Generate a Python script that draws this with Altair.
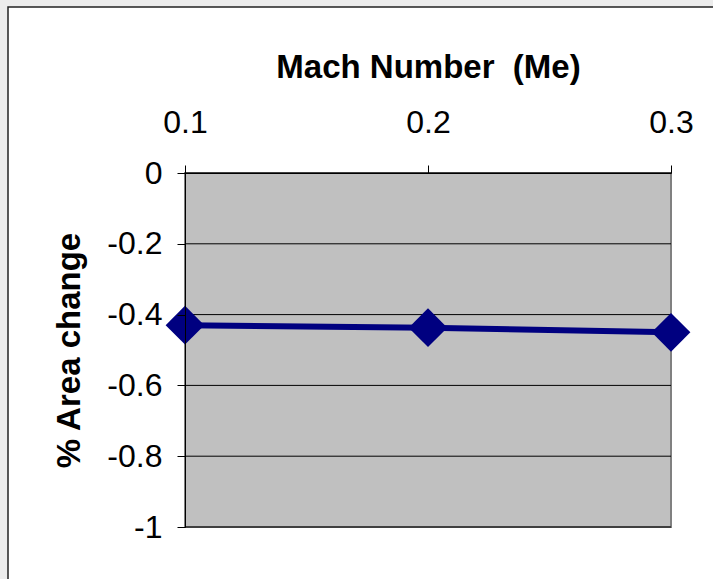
import altair as alt
import pandas as pd

mach = [0.1, 0.2, 0.3]
area_change = [-0.43, -0.437, -0.45]
y_ticks = [0, -0.2, -0.4, -0.6, -0.8, -1]
x_ticks = [0.1, 0.2, 0.3]

W, H = 486, 354
FONT = "Liberation Sans"

df = pd.DataFrame({"mach": mach, "area": area_change})
grid_df = pd.DataFrame({"v": y_ticks})
one = pd.DataFrame({"a": [0]})

xscale = alt.Scale(domain=[0.1, 0.3], nice=False, zero=False)
yscale = alt.Scale(domain=[-1, 0], nice=False)

frame = alt.Chart(one).mark_rect(fill="white", stroke="#222222", strokeWidth=1.5).encode(
    x=alt.value(-177), x2=alt.value(W + 60), y=alt.value(-166), y2=alt.value(H + 80)
)
plotbg = alt.Chart(one).mark_rect(fill="#c0c0c0", stroke="#808080", strokeWidth=2).encode(
    x=alt.value(0), x2=alt.value(W), y=alt.value(0), y2=alt.value(H)
)
grid = alt.Chart(grid_df).mark_rule(color="black", strokeWidth=1).encode(
    y=alt.Y("v:Q", scale=yscale)
)

xaxis = alt.Axis(
    orient="top", values=x_ticks, format=".1f", title="Mach Number\u00a0 (Me)",
    labelFont=FONT, labelFontSize=32, labelColor="black", labelPadding=26,
    labelFlush=False,
    titleFont=FONT, titleFontSize=33, titleFontWeight="bold", titleColor="black",
    titlePadding=22, tickSize=8, tickColor="black", domainColor="black", grid=False,
    zindex=1,
)
yaxis = alt.Axis(
    values=y_ticks, title="% Area change",
    labelExpr="datum.value == 0 ? '0' : (datum.value <= -1 ? '-1' : '-' + format(-datum.value, '.1f'))",
    labelFont=FONT, labelFontSize=32, labelColor="black", labelPadding=15,
    labelFlush=False,
    titleFont=FONT, titleFontSize=33, titleFontWeight="bold", titleColor="black",
    titlePadding=20, tickSize=8, tickColor="black", domainColor="black", grid=False,
    zindex=1,
)

line = alt.Chart(df).mark_line(color="#000080", strokeWidth=6).encode(
    x=alt.X("mach:Q", scale=xscale, axis=xaxis),
    y=alt.Y("area:Q", scale=yscale, axis=yaxis),
)
pts = alt.Chart(df).mark_point(shape="diamond", filled=True, color="#000080", size=1500, opacity=1).encode(
    x=alt.X("mach:Q", scale=xscale, axis=xaxis),
    y=alt.Y("area:Q", scale=yscale, axis=yaxis),
)

chart = alt.layer(frame, plotbg, grid, line, pts).properties(
    width=W, height=H,
    autosize=alt.AutoSizeParams(type="none"),
    padding={"left": 185, "top": 173, "right": 42, "bottom": 52},
    background="#ececec",
).configure_view(stroke=None)

chart.save("out.html", embed_options={"renderer": "svg", "actions": False})
